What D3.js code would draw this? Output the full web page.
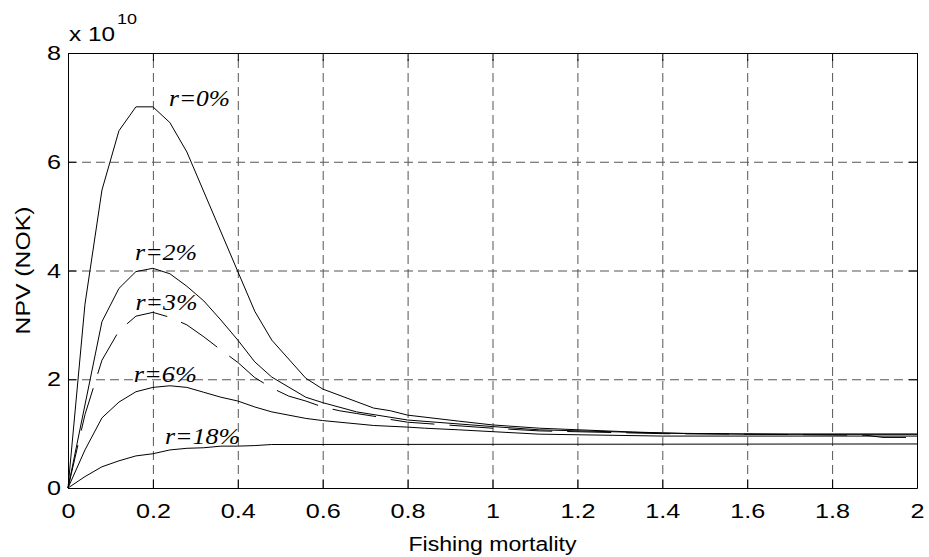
<!DOCTYPE html>
<html><head><meta charset="utf-8">
<script src="https://cdn.jsdelivr.net/npm/d3@7"></script>
<style>body{margin:0;background:#fff}svg{display:block}</style>
</head><body>
<svg id="chart" width="929" height="557"></svg>
<script>
// ---- data (NPV in units of 1e10 NOK) ----
const xTicks = [0,0.2,0.4,0.6,0.8,1,1.2,1.4,1.6,1.8,2];
const yTicks = [0,2,4,6,8];
const F0 = [0,0.04,0.08,0.12,0.16,0.20,0.24,0.28,0.44,0.48,0.56,0.60,0.72,0.76,0.80,0.92,1.00,1.11,1.33,1.46,1.70,2.00];
const V0 = [0,3.38,5.48,6.57,7.01,7.01,6.72,6.18,3.25,2.72,2.02,1.82,1.47,1.42,1.34,1.23,1.16,1.10,1.03,1.00,0.99,0.99];
const F2 = [0,0.08,0.12,0.16,0.20,0.24,0.28,0.32,0.36,0.40,0.44,0.48,0.56,0.60,0.68,0.80,1.00,1.11,1.40,1.60,1.80,2.00];
const V2 = [0,3.06,3.67,3.98,4.04,3.94,3.71,3.44,3.09,2.72,2.32,2.04,1.67,1.57,1.40,1.25,1.13,1.07,1.01,0.99,0.99,0.99];
const F3 = [0,0.04,0.08,0.12,0.16,0.20,0.24,0.28,0.32,0.36,0.40,0.44,0.48,0.52,0.56,0.60,0.64,0.68,0.72,0.76,0.80,1.00,1.11,1.40,1.60,1.88,1.92,2.00];
const V3 = [0,1.35,2.35,2.89,3.16,3.23,3.14,3.00,2.78,2.54,2.31,2.03,1.84,1.69,1.60,1.49,1.42,1.37,1.32,1.26,1.21,1.10,1.05,1.00,0.99,0.97,0.93,0.93];
const F6 = [0,0.04,0.08,0.12,0.16,0.20,0.24,0.28,0.32,0.36,0.40,0.44,0.48,0.56,0.60,0.72,0.80,0.84,0.92,1.11,1.40,2.00];
const V6 = [0,0.70,1.29,1.58,1.77,1.85,1.88,1.85,1.76,1.67,1.60,1.49,1.40,1.28,1.24,1.15,1.12,1.10,1.07,0.99,0.955,0.955];
const F18 = [0,0.04,0.08,0.12,0.16,0.20,0.24,0.28,0.32,0.36,0.40,0.44,0.48,2.00];
const V18 = [0,0.21,0.39,0.50,0.59,0.63,0.70,0.73,0.74,0.77,0.77,0.78,0.80,0.81];
const seriesNames = ["r=0%","r=2%","r=3%","r=6%","r=18%"];
const seriesF = [F0,F2,F3,F6,F18];
const seriesV = [V0,V2,V3,V6,V18];
const seriesDashed = [false,false,true,false,false];
// label anchor points in data units
const labelF = [0.238,0.158,0.159,0.155,0.2285];
const labelV = [7.02,4.20,3.28,1.95,0.81];
const labelW = [61,62,62,63,75];

// ---- layout ----
const L=68, R=917, T=53, B=488;
const svg = d3.select("#chart");
const x = d3.scaleLinear().domain([0,2]).range([L,R]);
const y = d3.scaleLinear().domain([0,8]).range([B,T]);
const SX = 1.2;

function stretch(sel, f){
  sel.each(function(){
    const t = d3.select(this);
    const tx = +t.attr("x") || 0;
    t.attr("x",0).attr("transform",`translate(${tx},0) scale(${f},1)`);
  });
}

// grid
svg.append("g").attr("transform",`translate(0,${B})`)
  .call(d3.axisBottom(x).tickValues(xTicks.slice(1,-1)).tickSize(-(B-T)).tickFormat(""))
  .call(g=>{g.select(".domain").remove();
    g.selectAll("line").attr("stroke","#555").attr("stroke-dasharray","9,5");});
svg.append("g").attr("transform",`translate(${L},0)`)
  .call(d3.axisLeft(y).tickValues(yTicks.slice(1,-1)).tickSize(-(R-L)).tickFormat(""))
  .call(g=>{g.select(".domain").remove();
    g.selectAll("line").attr("stroke","#555").attr("stroke-dasharray","9,5");});

// lines
const line = d3.line().x(d=>x(d[0])).y(d=>y(d[1]));
seriesF.forEach((F,i)=>{
  const pts = F.map((f,j)=>[f,seriesV[i][j]]);
  svg.append("path").datum(pts).attr("d",line)
    .attr("fill","none").attr("stroke","#000").attr("stroke-width",1)
    .attr("stroke-dasharray", seriesDashed[i] ? "44,15" : null);
});

// labels
seriesNames.forEach((n,i)=>{
  const t = svg.append("text")
    .attr("x",x(labelF[i])).attr("y",y(labelV[i]))
    .attr("font-family","'Liberation Serif','Times New Roman',serif")
    .attr("font-style","italic").attr("font-size",24).text(n);
  t.attr("textLength",labelW[i]).attr("lengthAdjust","spacingAndGlyphs");
});

// axes with inward ticks
const fmt = d=>String(d);
svg.append("g").attr("transform",`translate(0,${B})`)
  .call(d3.axisBottom(x).tickValues(xTicks).tickSizeInner(-8).tickSizeOuter(0).tickPadding(15).tickFormat(fmt))
  .call(g=>{g.select(".domain").attr("stroke","#000");
    g.selectAll("text").attr("font-family","'Liberation Sans',Arial,sans-serif").attr("font-size",21).attr("fill","#000");
    stretch(g.selectAll("text"),SX);});
svg.append("g").attr("transform",`translate(0,${T})`)
  .call(d3.axisTop(x).tickValues(xTicks).tickSizeInner(-8).tickSizeOuter(0).tickFormat(""))
  .call(g=>g.select(".domain").attr("stroke","#000"));
svg.append("g").attr("transform",`translate(${L},0)`)
  .call(d3.axisLeft(y).tickValues(yTicks).tickSizeInner(-8).tickSizeOuter(0).tickPadding(7).tickFormat(fmt))
  .call(g=>{g.select(".domain").attr("stroke","#000");
    g.selectAll("text").attr("font-family","'Liberation Sans',Arial,sans-serif").attr("font-size",21).attr("fill","#000");
    stretch(g.selectAll("text"),SX);});
svg.append("g").attr("transform",`translate(${R},0)`)
  .call(d3.axisRight(y).tickValues(yTicks).tickSizeInner(-8).tickSizeOuter(0).tickFormat(""))
  .call(g=>g.select(".domain").attr("stroke","#000"));

// exponent
const ex = svg.append("text").attr("x",L+1).attr("y",41)
  .attr("font-family","'Liberation Sans',Arial,sans-serif").attr("font-size",21).attr("fill","#000");
ex.append("tspan").text("x 10").attr("textLength",46).attr("lengthAdjust","spacingAndGlyphs");
svg.append("text").attr("x",117).attr("y",24)
  .attr("font-family","'Liberation Sans',Arial,sans-serif").attr("font-size",15).attr("fill","#000")
  .attr("textLength",20).attr("lengthAdjust","spacingAndGlyphs").text("10");

// axis titles
svg.append("text").attr("x",(L+R)/2).attr("y",551).attr("text-anchor","middle")
  .attr("font-family","'Liberation Sans',Arial,sans-serif").attr("font-size",20).attr("fill","#000")
  .attr("textLength",168).attr("lengthAdjust","spacingAndGlyphs").text("Fishing mortality");
svg.append("text").attr("transform",`translate(30,${(T+B)/2}) rotate(-90)`).attr("text-anchor","middle")
  .attr("font-family","'Liberation Sans',Arial,sans-serif").attr("font-size",21).attr("fill","#000")
  .attr("textLength",128).attr("lengthAdjust","spacingAndGlyphs").text("NPV (NOK)");
</script>
</body></html>
